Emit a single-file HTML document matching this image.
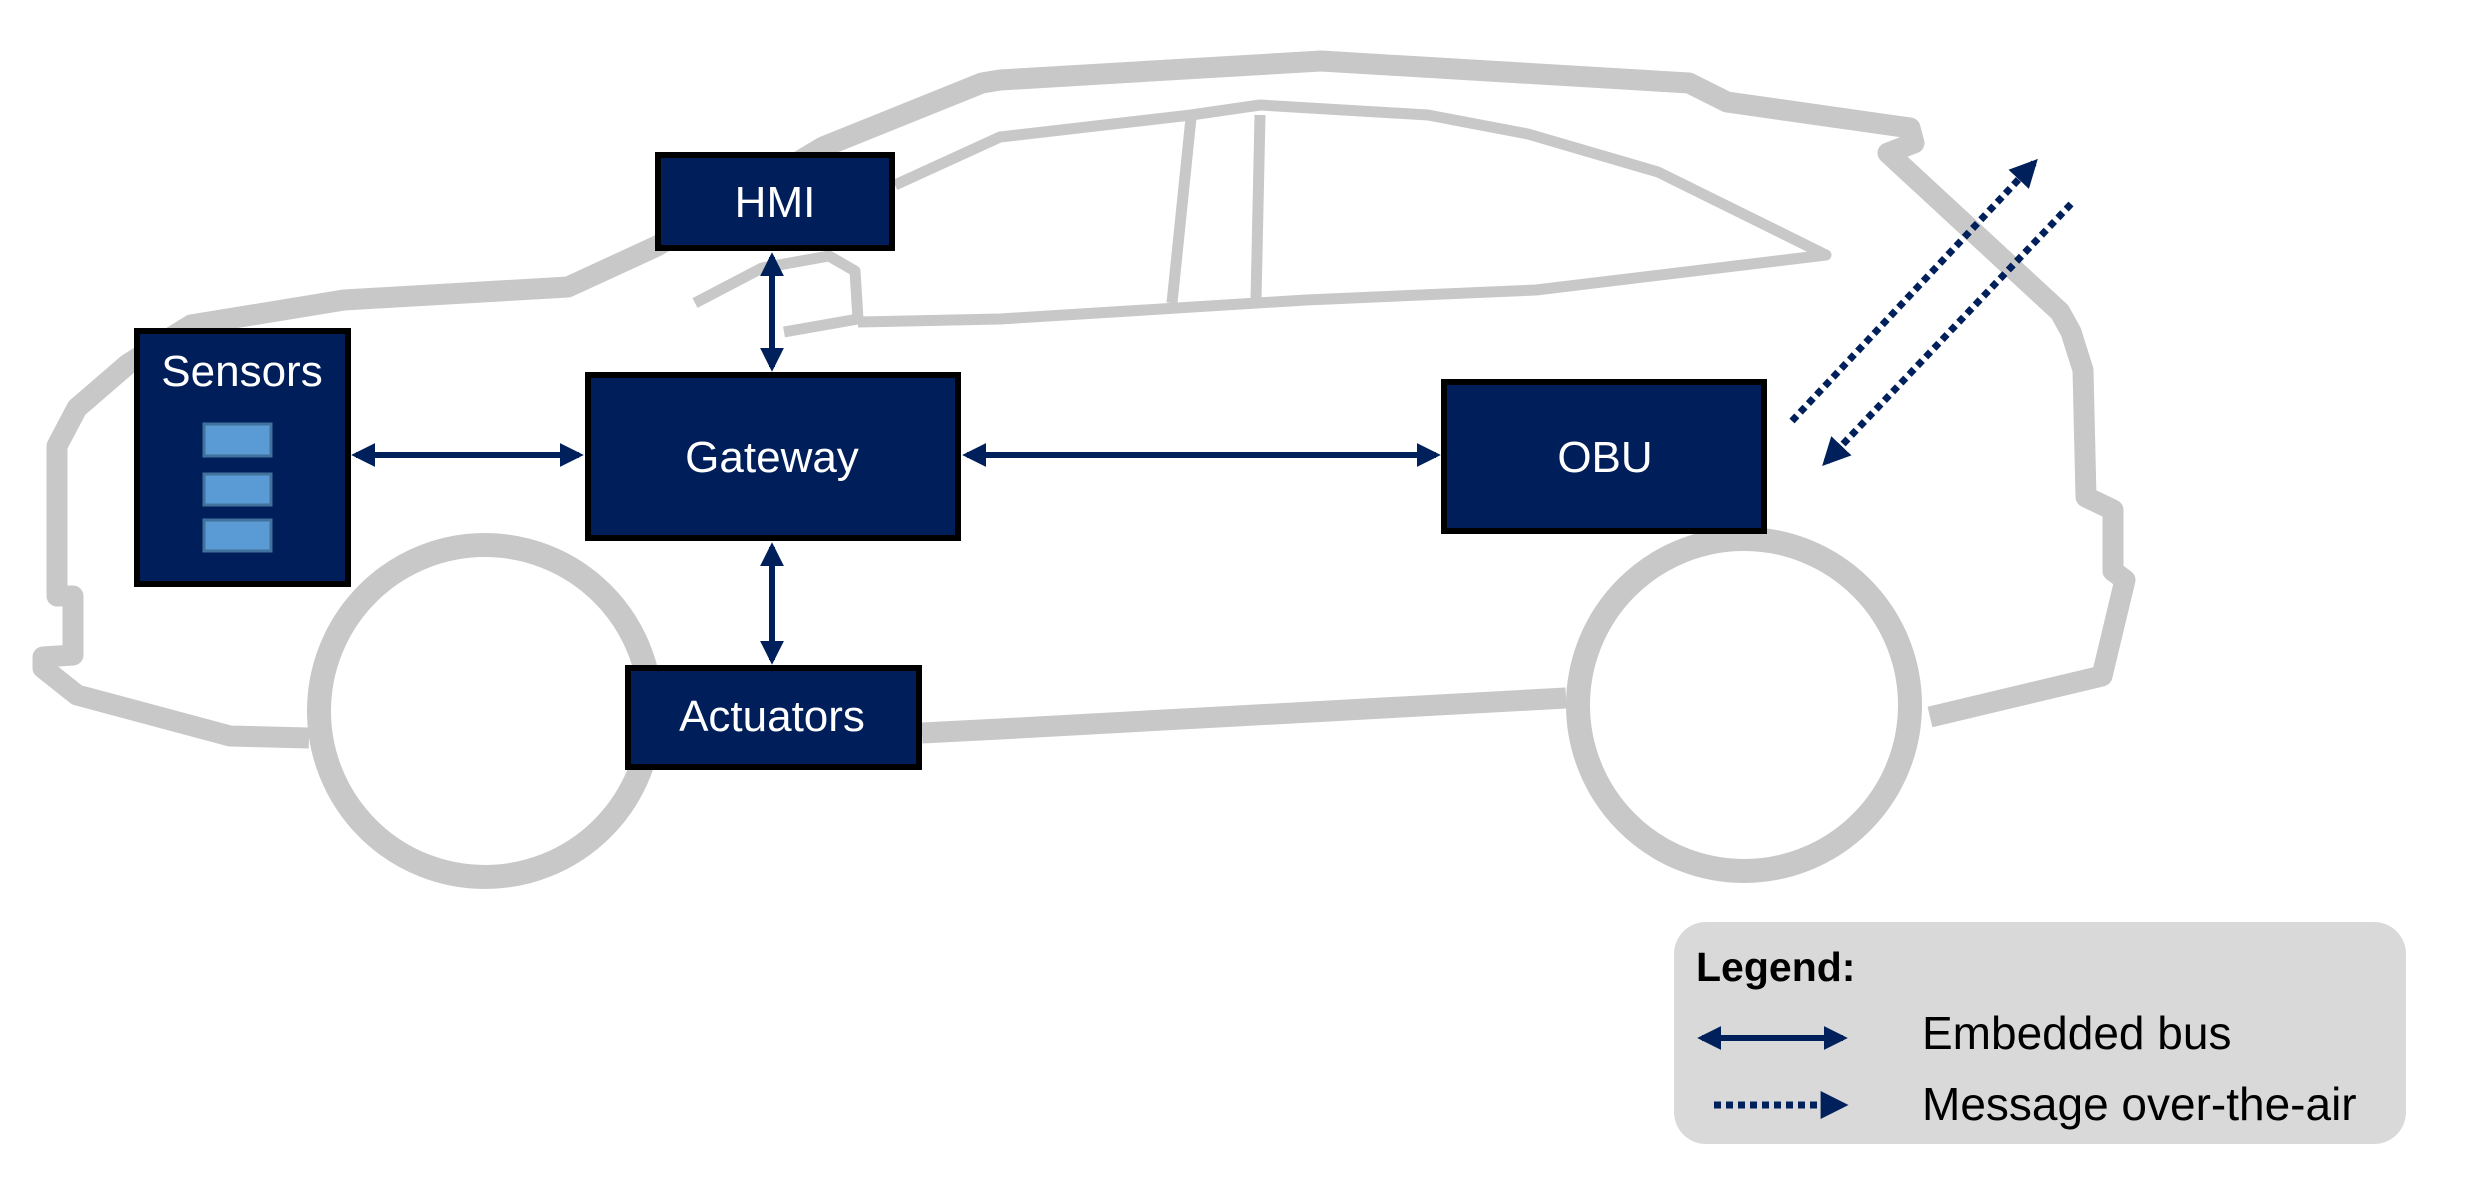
<!DOCTYPE html>
<html><head><meta charset="utf-8"><style>
html,body{margin:0;padding:0;background:#fff}
svg{display:block}
text{font-family:"Liberation Sans",sans-serif}
</style></head><body>
<svg width="2470" height="1192" viewBox="0 0 2470 1192" xmlns="http://www.w3.org/2000/svg">
<defs>
<marker id="ah" markerWidth="4" markerHeight="4" refX="3.2" refY="2" orient="auto-start-reverse" markerUnits="strokeWidth">
<path d="M0,0 L4,2 L0,4 z" fill="#00205B"/>
</marker>
</defs>
<g fill="none" stroke="#C8C8C8" stroke-linejoin="round">
<path stroke-width="21" d="M309,738 L230,736 L77,695 L43,668 L43,657 L73,655 L73,596 L57,596 L57,446 L77,408 L128,364 L191,325 L344,300 L568,287 L657,246 L823,147 L982,83 L1000,80 L1321,61 L1689,83 L1727,102 L1910,128 L1914,143 L1888,153 L2060,312 L2071,332 L2083,370 L2086,497 L2113,510 L2113,571 L2125,580 L2102,676 L1930,717"/>
<path stroke-width="21" d="M922,733 L1000,729 L1566,698"/>
<circle cx="485" cy="711" r="166" stroke-width="24"/>
<circle cx="1744" cy="705" r="166" stroke-width="24"/>
<path stroke-width="11" d="M695,303 L762,268 L829,256 L855,271 L858,319 L784,332"/>
<path stroke-width="11" d="M895,185 L1000,137 L1191,115 L1260,105 L1428,115 L1528,134 L1658,172 L1826,255 L1536,290 L1306,300 L1000,319 L858,322"/>
<path stroke-width="11" d="M1191,118 L1172,303"/>
<path stroke-width="11" d="M1260,115 L1256,300"/>
</g>
<g stroke="#00205B" stroke-width="6" fill="none">
<line x1="356" y1="455" x2="579" y2="455" marker-start="url(#ah)" marker-end="url(#ah)"/>
<line x1="967" y1="455" x2="1436" y2="455" marker-start="url(#ah)" marker-end="url(#ah)"/>
<line x1="772" y1="257" x2="772" y2="367" marker-start="url(#ah)" marker-end="url(#ah)"/>
<line x1="772" y1="547" x2="772" y2="660" marker-start="url(#ah)" marker-end="url(#ah)"/>
<line x1="1792" y1="421" x2="2034" y2="163" stroke-dasharray="7,5" stroke-width="7" marker-end="url(#ah)"/>
<line x1="2071" y1="204" x2="1826" y2="462" stroke-dasharray="7,5" stroke-width="7" marker-end="url(#ah)"/>
</g>
<g fill="#001E5A" stroke="#000" stroke-width="6">
<rect x="658" y="155" width="234" height="93"/>
<rect x="137" y="331" width="211" height="253"/>
<rect x="588" y="375" width="370" height="163"/>
<rect x="628" y="668" width="291" height="99"/>
<rect x="1444" y="382" width="320" height="149"/>
</g>
<g fill="#5B9BD5" stroke="#41719C" stroke-width="3">
<rect x="204" y="424" width="67" height="32"/>
<rect x="204" y="474" width="67" height="31"/>
<rect x="204" y="520" width="67" height="31"/>
</g>
<g fill="#fff" font-size="44" text-anchor="middle">
<text x="775" y="217">HMI</text>
<text x="242" y="386">Sensors</text>
<text x="772" y="472">Gateway</text>
<text x="772" y="731">Actuators</text>
<text x="1605" y="472">OBU</text>
</g>
<rect x="1674" y="922" width="732" height="222" rx="32" fill="#D9D9D9"/>
<text x="1696" y="981" font-size="41" font-weight="bold" fill="#000">Legend:</text>
<g stroke="#00205B" stroke-width="6" fill="none">
<line x1="1702" y1="1038" x2="1843" y2="1038" marker-start="url(#ah)" marker-end="url(#ah)"/>
<line x1="1714" y1="1105" x2="1843" y2="1105" stroke-dasharray="7,5" stroke-width="7" marker-end="url(#ah)"/>
</g>
<text x="1922" y="1049" font-size="46" fill="#000">Embedded bus</text>
<text x="1922" y="1120" font-size="46" fill="#000">Message over-the-air</text>
</svg>
</body></html>
